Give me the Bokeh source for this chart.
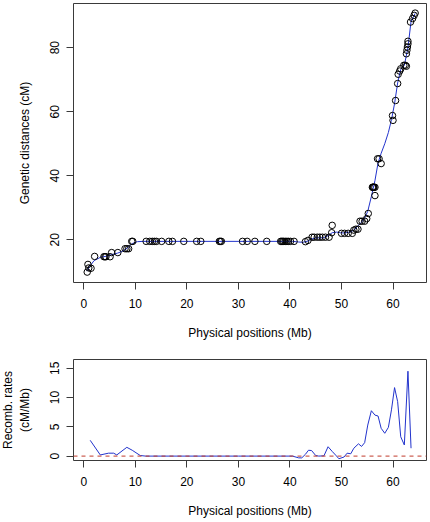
from bokeh.plotting import figure
from bokeh.models import Range1d, FixedTicker, Span, LinearAxis, BoxAnnotation
from bokeh.layouts import column
from bokeh.embed import file_html
from bokeh.resources import INLINE

# ---- data: marker positions (Mb) and genetic distances (cM)
pos = [0.66, 0.8, 0.97, 1.4, 2.1, 3.9, 4.1, 4.3, 5.1, 5.4, 6.6, 8.0, 8.35, 8.7, 9.3, 9.5,
       12.1, 12.8, 13.3, 13.7, 14.1, 15.1, 16.5, 17.2, 19.4, 21.9, 22.7, 26.3, 26.5, 26.7,
       30.8, 31.7, 33.2, 35.5, 38.2, 38.4, 38.6, 38.8, 39.1, 39.4, 39.7, 40.1, 40.8,
       43.0, 43.5, 44.3, 44.7, 45.3, 45.8, 46.3, 46.9, 47.6, 48.1, 48.2,
       50.0, 50.6, 51.3, 52.1, 52.4, 52.8, 53.2, 53.6, 54.0, 54.5, 54.9, 55.2,
       56.0, 56.1, 56.2, 56.3, 56.5, 56.5, 57.0, 57.3, 57.7,
       59.9, 60.0, 60.5, 60.9, 61.0, 61.3, 61.5, 62.1, 62.4, 62.6,
       62.6, 62.7, 62.8, 62.9, 62.9, 63.4, 63.8, 64.1, 64.3]
gen = [9.9, 12.3, 11.2, 11.1, 14.8, 14.7, 14.7, 14.7, 14.7, 16.0, 16.0, 17.2, 17.2, 17.2, 19.5, 19.5,
       19.5, 19.5, 19.5, 19.5, 19.5, 19.5, 19.5, 19.5, 19.5, 19.5, 19.5, 19.5, 19.5, 19.5,
       19.5, 19.5, 19.5, 19.5, 19.5, 19.5, 19.5, 19.5, 19.5, 19.5, 19.5, 19.5, 19.5,
       19.4, 19.8, 20.8, 20.8, 20.8, 20.8, 20.8, 20.8, 20.8, 22.2, 24.5,
       22.0, 22.0, 22.0, 22.0, 23.0, 23.3, 23.3, 25.8, 25.8, 25.8, 26.6, 28.2,
       36.4, 36.4, 36.4, 36.4, 36.4, 33.8, 45.3, 45.3, 43.8,
       58.8, 57.3, 63.5, 68.8, 71.7, 72.7, 73.4, 74.5, 74.5, 74.2,
       78.1, 79.2, 80.2, 81.2, 82.0, 88.0, 89.1, 90.1, 90.8]

# ---- fitted map curve
fit_pos = [0.6, 1.3, 2.0, 3.2, 4.5, 5.5, 6.5, 7.5, 8.4, 9.4, 10.4, 11.5, 20, 30, 40.5,
           41.7, 42.5, 43.5, 44.2, 45.0, 46.5, 47.4, 48.2, 49.0, 49.8, 50.5, 51.2, 51.8,
           52.4, 53.2, 53.9, 54.5, 55.1, 55.8, 56.5, 57.1, 57.7, 58.4, 59.1, 59.7, 60.3,
           60.9, 61.5, 62.2, 62.9, 63.5, 64.3]
fit_gen = [10.2, 12.0, 13.5, 14.5, 14.9, 15.4, 15.8, 16.4, 17.4, 18.8, 19.4, 19.5, 19.5, 19.5, 19.5,
           19.3, 19.2, 19.6, 20.2, 20.6, 20.6, 21.3, 22.2, 22.4, 22.2, 22.1, 22.3, 22.5,
           23.0, 24.3, 25.5, 26.8, 28.9, 33.5, 38.5, 44.0, 47.0, 50.0, 53.5, 57.5, 62.5,
           69.0, 73.2, 74.5, 80.0, 88.2, 90.7]

# ---- recombination rates (cM/Mb)
rate_pos = [1.24, 3.2, 4.8, 5.8, 6.4, 8.35, 9.4, 10.95, 12.0, 20, 30, 40.5, 41.7, 42.3,
            43.0, 43.6, 44.2, 45.0, 45.6, 46.6, 47.4, 48.2, 49.0, 49.5, 50.5, 51.1, 51.8,
            52.4, 53.3, 53.9, 54.5, 55.1, 55.8, 56.5, 57.1, 57.7, 58.4, 59.1, 59.7, 60.3,
            60.9, 61.5, 62.2, 62.9, 63.5]
rate_val = [2.7, 0.2, 0.5, 0.5, 0.2, 1.5, 1.0, 0.1, 0.0, 0.0, 0.0, 0.0, -0.3, -0.3,
            0.3, 1.0, 0.95, 0.1, 0.0, 0.05, 1.6, 0.8, 0.05, -0.45, -0.15, 0.5, 0.4,
            1.35, 2.1, 1.65, 2.3, 5.3, 7.75, 7.0, 6.85, 4.75, 3.9, 4.9, 7.9, 11.7,
            9.3, 3.3, 1.9, 14.5, 1.35]

x_ticks = [0, 10, 20, 30, 40, 50, 60]
y1_ticks = [20, 40, 60, 80]
y2_ticks = [0, 5, 10, 15]

FONT = "Liberation Sans"
BOX = "#3a3a3a"
SHIFT = 27  # extra left border hidden off-page


def style(p, yticks):
    p.outline_line_color = BOX
    p.outline_line_width = 1
    p.xgrid.visible = False
    p.ygrid.visible = False
    p.xaxis.ticker = FixedTicker(ticks=x_ticks)
    p.yaxis.ticker = FixedTicker(ticks=yticks)
    for ax in (p.xaxis[0], p.yaxis[0]):
        ax.axis_line_color = None
        ax.major_tick_line_color = BOX
        ax.major_tick_out = 7
        ax.major_tick_in = 0
        ax.minor_tick_line_color = None
        ax.major_label_text_font = FONT
        ax.major_label_text_font_size = "12px"
        ax.major_label_text_color = "black"
        ax.axis_label_text_font = FONT
        ax.axis_label_text_font_size = "12px"
        ax.axis_label_text_font_style = "normal"
        ax.axis_label_text_color = "black"
    p.xaxis.major_label_standoff = 9
    p.xaxis.axis_label_standoff = 15
    p.yaxis.major_label_orientation = "vertical"
    p.yaxis.major_label_standoff = 7
    p.yaxis.axis_label_standoff = 16
    p.add_layout(BoxAnnotation(fill_alpha=0, fill_color=None, line_color=BOX, line_width=1))


p1 = figure(width=430 + SHIFT, height=345, output_backend="svg", toolbar_location=None,
            x_range=Range1d(-2.0, 66.5), y_range=Range1d(6.65, 93.8),
            min_border_left=73 + SHIFT, min_border_right=4, min_border_top=3, min_border_bottom=63)
style(p1, y1_ticks)
p1.xaxis.axis_label = "Physical positions (Mb)"
p1.yaxis.axis_label = "Genetic distances (cM)"
p1.line(fit_pos, fit_gen, line_color="#2233CC", line_width=1)
p1.scatter(pos, gen, size=6.5, fill_color=None, line_color="black", line_width=1)

p2 = figure(width=430 + SHIFT, height=175, output_backend="svg", toolbar_location=None,
            x_range=Range1d(-2.0, 66.5), y_range=Range1d(-0.75, 16.5),
            min_border_left=73 + SHIFT, min_border_right=4, min_border_top=14, min_border_bottom=59)
style(p2, y2_ticks)
p2.xaxis.axis_label = "Physical positions (Mb)"
p2.yaxis.axis_label = "(cM/Mb)"
outer = LinearAxis(axis_label="Recomb. rates", ticker=FixedTicker(ticks=[]),
                   axis_line_color=None, major_tick_line_color=None, minor_tick_line_color=None,
                   major_tick_out=0, major_label_standoff=0, axis_label_standoff=0,
                   axis_label_text_font=FONT, axis_label_text_font_size="12px",
                   axis_label_text_font_style="normal", axis_label_text_color="black")
p2.add_layout(outer, "left")
p2.add_layout(Span(location=0, dimension="width", line_color="#C03A2B",
                   line_dash="4 4", line_width=1))
p2.line(rate_pos, rate_val, line_color="#2233CC", line_width=1)

layout = column(p1, p2, spacing=0, margin=(0, 0, 0, -SHIFT))

open("out.html", "w").write(file_html(layout, INLINE))
